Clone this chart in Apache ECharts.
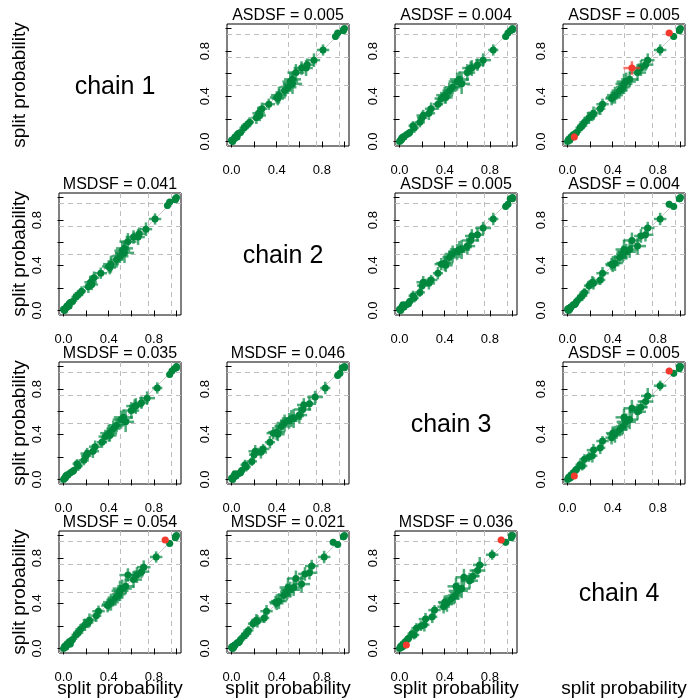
<!DOCTYPE html>
<html>
<head>
<meta charset="utf-8">
<script src="https://cdn.jsdelivr.net/npm/echarts@6/dist/echarts.min.js"></script>
<style>
  html, body { margin: 0; padding: 0; background: #fff; }
  #chart { width: 690px; height: 700px; }
</style>
</head>
<body>
<div id="chart"></div>
<script>
// split probabilities per chain (same split order in every chain)
const chain1 = [1.00, 0.99, 0.98, 0.96, 0.93, 0.81, 0.72, 0.68, 0.65, 0.65, 0.61, 0.55, 0.53, 0.51, 0.48, 0.45, 0.41, 0.39, 0.38, 0.33, 0.29, 0.25, 0.23, 0.21, 0.17, 0.14, 0.12, 0.08, 0.07, 0.06, 0.04, 0.04, 0.03, 0.02, 0.01, 0.01, 0.00]
const chain2 = [1.00, 0.99, 0.99, 0.94, 0.92, 0.81, 0.73, 0.67, 0.66, 0.62, 0.57, 0.54, 0.52, 0.54, 0.50, 0.47, 0.42, 0.40, 0.41, 0.33, 0.27, 0.24, 0.25, 0.22, 0.16, 0.13, 0.11, 0.08, 0.06, 0.05, 0.05, 0.03, 0.03, 0.02, 0.01, 0.00, 0.01]
const chain3 = [1.00, 1.00, 0.98, 0.96, 0.94, 0.83, 0.74, 0.69, 0.64, 0.63, 0.60, 0.53, 0.51, 0.55, 0.47, 0.44, 0.40, 0.41, 0.37, 0.34, 0.28, 0.26, 0.21, 0.20, 0.18, 0.12, 0.13, 0.09, 0.08, 0.06, 0.03, 0.04, 0.02, 0.02, 0.01, 0.01, 0.00]
const chain4 = [1.00, 0.99, 0.99, 0.90, 0.94, 0.82, 0.71, 0.69, 0.65, 0.57, 0.62, 0.55, 0.52, 0.50, 0.49, 0.46, 0.42, 0.40, 0.39, 0.31, 0.29, 0.23, 0.22, 0.19, 0.15, 0.13, 0.11, 0.08, 0.07, 0.05, 0.06, 0.03, 0.03, 0.01, 0.02, 0.01, 0.00]
// standard deviation of each split within a chain (error bar half length)
const sd1 = [0.003, 0.008, 0.012, 0.025, 0.03, 0.05, 0.06, 0.055, 0.07, 0.06, 0.075, 0.07, 0.08, 0.09, 0.06, 0.07, 0.075, 0.055, 0.06, 0.05, 0.055, 0.06, 0.05, 0.055, 0.045, 0.04, 0.045, 0.03, 0.03, 0.025, 0.03, 0.025, 0.02, 0.016, 0.012, 0.01, 0.005]
const sd2 = [0.003, 0.009, 0.011, 0.03, 0.028, 0.055, 0.055, 0.06, 0.06, 0.07, 0.075, 0.075, 0.07, 0.085, 0.075, 0.06, 0.07, 0.06, 0.055, 0.055, 0.045, 0.055, 0.055, 0.045, 0.04, 0.045, 0.04, 0.03, 0.03, 0.028, 0.024, 0.02, 0.018, 0.015, 0.011, 0.008, 0.005]
const sd3 = [0.003, 0.006, 0.012, 0.028, 0.03, 0.045, 0.07, 0.06, 0.06, 0.075, 0.07, 0.085, 0.075, 0.075, 0.07, 0.06, 0.075, 0.06, 0.06, 0.045, 0.055, 0.055, 0.06, 0.045, 0.045, 0.04, 0.04, 0.03, 0.028, 0.03, 0.024, 0.024, 0.016, 0.015, 0.012, 0.008, 0.005]
const sd4 = [0.003, 0.008, 0.011, 0.03, 0.03, 0.055, 0.06, 0.07, 0.06, 0.075, 0.075, 0.075, 0.085, 0.075, 0.06, 0.07, 0.07, 0.06, 0.055, 0.055, 0.045, 0.06, 0.045, 0.045, 0.045, 0.045, 0.04, 0.03, 0.03, 0.024, 0.028, 0.02, 0.018, 0.016, 0.012, 0.009, 0.005]

const chains = [chain1, chain2, chain3, chain4]
const sds = [sd1, sd2, sd3, sd4]
const chainLabels = ['chain 1', 'chain 2', 'chain 3', 'chain 4']

// off-diagonal panels: row, column, title, flagged (red) splits
const panelRows = [0, 0, 0, 1, 1, 1, 2, 2, 2, 3, 3, 3]
const panelCols = [1, 2, 3, 0, 2, 3, 0, 1, 3, 0, 1, 2]
const panelTitles = ['ASDSF = 0.005', 'ASDSF = 0.004', 'ASDSF = 0.005',
    'MSDSF = 0.041', 'ASDSF = 0.005', 'ASDSF = 0.004',
    'MSDSF = 0.035', 'MSDSF = 0.046', 'ASDSF = 0.005',
    'MSDSF = 0.054', 'MSDSF = 0.021', 'MSDSF = 0.036']
const panelRed = [[], [], [3, 9, 30], [], [], [], [], [], [3, 30], [3], [], [3, 30]]

const tickValues = [0, 0.2, 0.4, 0.6, 0.8, 1.0]
const labelValues = [0, 0.4, 0.8]
const guideValues = [0.5, 0.75, 0.95]
const axisMin = -0.04
const axisMax = 1.04

const colLeft = [59, 227, 395, 563]
const rowTop = [24, 193, 362, 531]
const boxSize = 122
const green = '#00873E'
const red = '#F4392F'
const font = '"Liberation Sans", Arial, sans-serif'

function renderCross(params, api) {
    let x = api.value(0), y = api.value(1), sx = api.value(2), sy = api.value(3)
    let p = api.coord([x, y])
    let l = api.coord([x - sx, y]), r = api.coord([x + sx, y])
    let t = api.coord([x, y + sy]), b = api.coord([x, y - sy])
    let color = api.visual('color')
    return {
        type: 'group',
        children: [
            { type: 'line', shape: { x1: l[0], y1: l[1], x2: r[0], y2: r[1] }, style: { stroke: color, lineWidth: 2.5, opacity: 0.7 } },
            { type: 'line', shape: { x1: b[0], y1: b[1], x2: t[0], y2: t[1] }, style: { stroke: color, lineWidth: 2.5, opacity: 0.7 } },
            { type: 'circle', shape: { cx: p[0], cy: p[1], r: 3.5 }, style: { fill: color } }
        ]
    }
}

let grids = [], xAxes = [], yAxes = [], series = [], graphics = []

panelRows.forEach((row, k) => {
    let col = panelCols[k]
    let xi = Math.max(row, col), yi = Math.min(row, col)
    let left = colLeft[col], top = rowTop[row]
    grids.push({ left: left, top: top, width: boxSize, height: boxSize, show: true, borderColor: '#000', borderWidth: 1, backgroundColor: 'transparent' })
    let axisCommon = {
        type: 'value', gridIndex: k, min: axisMin, max: axisMax,
        axisLine: { show: false },
        axisTick: { show: true, customValues: tickValues, length: 6, lineStyle: { color: '#000', width: 1 } },
        axisLabel: { customValues: labelValues, formatter: v => v.toFixed(1), color: '#000', fontSize: 13, fontFamily: font, margin: 15 },
        splitLine: { show: false }
    }
    xAxes.push(Object.assign({}, axisCommon, {
        axisLabel: Object.assign({}, axisCommon.axisLabel, { margin: 18 })
    }))
    yAxes.push(Object.assign({}, axisCommon, {
        axisLabel: Object.assign({}, axisCommon.axisLabel, { rotate: 90 })
    }))

    let greenData = [], redData = []
    chains[xi].forEach((v, i) => {
        let item = [v, chains[yi][i], sds[xi][i], sds[yi][i]]
        if (panelRed[k].indexOf(i) >= 0) redData.push(item)
        else greenData.push(item)
    })

    series.push({
        type: 'line', xAxisIndex: k, yAxisIndex: k, data: [], silent: true, z: 1,
        markLine: {
            silent: true, symbol: ['none', 'none'], label: { show: false }, animation: false, z: 1,
            lineStyle: { color: '#BEBEBE', type: [5, 4], width: 1 },
            data: guideValues.map(v => ({ xAxis: v })).concat(guideValues.map(v => ({ yAxis: v }))).concat([
                [{ coord: [axisMin, axisMin], lineStyle: { type: 'solid', color: '#C8C8C8' } }, { coord: [axisMax, axisMax] }]
            ])
        }
    })
    series.push({
        type: 'custom', xAxisIndex: k, yAxisIndex: k, renderItem: renderCross,
        clip: true, itemStyle: { color: green }, data: greenData, z: 3
    })
    series.push({
        type: 'custom', xAxisIndex: k, yAxisIndex: k, renderItem: renderCross,
        clip: true, itemStyle: { color: red }, data: redData, z: 4
    })

    graphics.push({
        type: 'text', x: left + boxSize / 2, y: top - 8,
        style: { text: panelTitles[k], fill: '#000', font: '16px ' + font, textAlign: 'center', textVerticalAlign: 'middle' }
    })
})

chainLabels.forEach((name, i) => {
    graphics.push({
        type: 'text', x: colLeft[i] + boxSize / 2 - 5, y: rowTop[i] + boxSize / 2 + 2,
        style: { text: name, fill: '#000', font: '25px ' + font, textAlign: 'center', textVerticalAlign: 'middle' }
    })
    // outer axis titles
    graphics.push({
        type: 'text', x: 20, y: rowTop[i] + boxSize / 2, rotation: Math.PI / 2,
        style: { text: 'split probability', fill: '#000', font: '19px ' + font, textAlign: 'center', textVerticalAlign: 'middle' }
    })
    graphics.push({
        type: 'text', x: colLeft[i] + boxSize / 2, y: 689,
        style: { text: 'split probability', fill: '#000', font: '19px ' + font, textAlign: 'center', textVerticalAlign: 'middle' }
    })
})

let chart = echarts.init(document.getElementById('chart'))
chart.setOption({
    animation: false,
    backgroundColor: '#fff',
    grid: grids,
    xAxis: xAxes,
    yAxis: yAxes,
    series: series,
    graphic: graphics
})
</script>
</body>
</html>
